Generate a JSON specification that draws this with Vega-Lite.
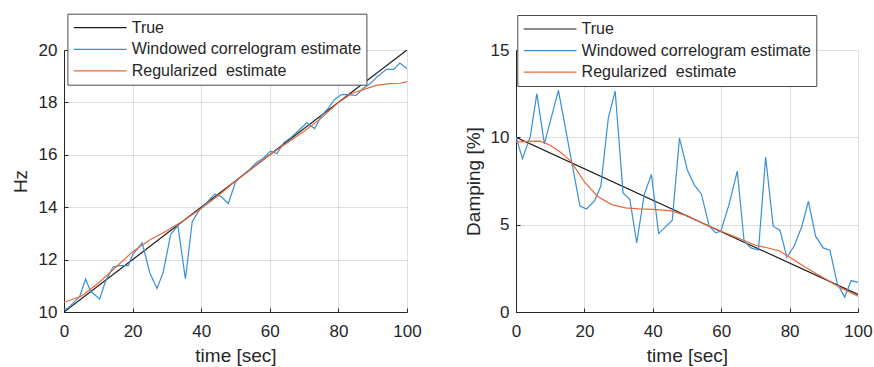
{
  "$schema": "https://vega.github.io/schema/vega-lite/v6.json",
  "padding": {"left": 11, "top": 13, "right": 5, "bottom": 5},
  "background": "white",
  "spacing": 109,
  "bounds": "flush",
  "config": {
    "view": {"stroke": null},
    "font": "Liberation Sans",
    "axis": {
      "labelFont": "Liberation Sans",
      "titleFont": "Liberation Sans",
      "labelFontSize": 17,
      "titleFontSize": 19,
      "titleFontWeight": "normal",
      "labelColor": "#262626",
      "titleColor": "#262626",
      "domainColor": "#262626",
      "tickColor": "#262626",
      "gridColor": "#262626",
      "gridOpacity": 0.15,
      "tickSize": -4,
      "labelPadding": 15,
      "labelFlush": false,
      "labelOverlap": false
    },
    "legend": {
      "orient": "none",
      "labelFont": "Liberation Sans",
      "labelFontSize": 16,
      "labelColor": "#262626",
      "symbolType": "M-3.3,0H3.3",
      "symbolSize": 256,
      "symbolStrokeWidth": 1.2,
      "symbolFillColor": "transparent",
      "symbolOffset": 18.8,
      "labelOffset": 22.5,
      "rowPadding": 4.6,
      "padding": 5,
      "strokeColor": "#4a4a4a",
      "fillColor": "white",
      "title": null,
      "labelLimit": 400
    }
  },
  "datasets": {
    "freq": [
      {"t": 0, "v": 10, "s": "True"},
      {"t": 100, "v": 20, "s": "True"},
      {"t": 0, "v": 10.1, "s": "Windowed correlogram estimate"},
      {"t": 1.2, "v": 10.15, "s": "Windowed correlogram estimate"},
      {"t": 4.6, "v": 10.6, "s": "Windowed correlogram estimate"},
      {"t": 6.3, "v": 11.26, "s": "Windowed correlogram estimate"},
      {"t": 7.7, "v": 10.8, "s": "Windowed correlogram estimate"},
      {"t": 10.4, "v": 10.5, "s": "Windowed correlogram estimate"},
      {"t": 12.1, "v": 11.17, "s": "Windowed correlogram estimate"},
      {"t": 14.3, "v": 11.72, "s": "Windowed correlogram estimate"},
      {"t": 16.2, "v": 11.77, "s": "Windowed correlogram estimate"},
      {"t": 18.7, "v": 11.77, "s": "Windowed correlogram estimate"},
      {"t": 20.1, "v": 12.2, "s": "Windowed correlogram estimate"},
      {"t": 22.8, "v": 12.64, "s": "Windowed correlogram estimate"},
      {"t": 25.0, "v": 11.5, "s": "Windowed correlogram estimate"},
      {"t": 27.1, "v": 10.9, "s": "Windowed correlogram estimate"},
      {"t": 28.9, "v": 11.5, "s": "Windowed correlogram estimate"},
      {"t": 31.1, "v": 12.96, "s": "Windowed correlogram estimate"},
      {"t": 33.2, "v": 13.3, "s": "Windowed correlogram estimate"},
      {"t": 35.4, "v": 11.26, "s": "Windowed correlogram estimate"},
      {"t": 37.4, "v": 13.46, "s": "Windowed correlogram estimate"},
      {"t": 39.5, "v": 13.9, "s": "Windowed correlogram estimate"},
      {"t": 41.8, "v": 14.2, "s": "Windowed correlogram estimate"},
      {"t": 43.9, "v": 14.5, "s": "Windowed correlogram estimate"},
      {"t": 45.9, "v": 14.4, "s": "Windowed correlogram estimate"},
      {"t": 47.9, "v": 14.14, "s": "Windowed correlogram estimate"},
      {"t": 50.0, "v": 14.96, "s": "Windowed correlogram estimate"},
      {"t": 51.9, "v": 15.2, "s": "Windowed correlogram estimate"},
      {"t": 54.1, "v": 15.44, "s": "Windowed correlogram estimate"},
      {"t": 56.1, "v": 15.7, "s": "Windowed correlogram estimate"},
      {"t": 58.0, "v": 15.86, "s": "Windowed correlogram estimate"},
      {"t": 60.2, "v": 16.14, "s": "Windowed correlogram estimate"},
      {"t": 62.1, "v": 16.05, "s": "Windowed correlogram estimate"},
      {"t": 64.1, "v": 16.46, "s": "Windowed correlogram estimate"},
      {"t": 66.1, "v": 16.65, "s": "Windowed correlogram estimate"},
      {"t": 68.2, "v": 16.9, "s": "Windowed correlogram estimate"},
      {"t": 70.8, "v": 17.22, "s": "Windowed correlogram estimate"},
      {"t": 73.1, "v": 17.0, "s": "Windowed correlogram estimate"},
      {"t": 75.0, "v": 17.48, "s": "Windowed correlogram estimate"},
      {"t": 77.0, "v": 17.77, "s": "Windowed correlogram estimate"},
      {"t": 78.9, "v": 18.11, "s": "Windowed correlogram estimate"},
      {"t": 80.9, "v": 18.3, "s": "Windowed correlogram estimate"},
      {"t": 82.8, "v": 18.3, "s": "Windowed correlogram estimate"},
      {"t": 85.2, "v": 18.27, "s": "Windowed correlogram estimate"},
      {"t": 87.2, "v": 18.53, "s": "Windowed correlogram estimate"},
      {"t": 89.6, "v": 18.75, "s": "Windowed correlogram estimate"},
      {"t": 91.5, "v": 19.0, "s": "Windowed correlogram estimate"},
      {"t": 94.0, "v": 19.26, "s": "Windowed correlogram estimate"},
      {"t": 96.1, "v": 19.26, "s": "Windowed correlogram estimate"},
      {"t": 97.9, "v": 19.5, "s": "Windowed correlogram estimate"},
      {"t": 100, "v": 19.29, "s": "Windowed correlogram estimate"},
      {"t": 0, "v": 10.37, "s": "Regularized \u00a0estimate"},
      {"t": 5, "v": 10.6, "s": "Regularized \u00a0estimate"},
      {"t": 10, "v": 11.1, "s": "Regularized \u00a0estimate"},
      {"t": 15, "v": 11.7, "s": "Regularized \u00a0estimate"},
      {"t": 20, "v": 12.3, "s": "Regularized \u00a0estimate"},
      {"t": 25, "v": 12.75, "s": "Regularized \u00a0estimate"},
      {"t": 30, "v": 13.1, "s": "Regularized \u00a0estimate"},
      {"t": 35, "v": 13.5, "s": "Regularized \u00a0estimate"},
      {"t": 40, "v": 13.95, "s": "Regularized \u00a0estimate"},
      {"t": 45, "v": 14.45, "s": "Regularized \u00a0estimate"},
      {"t": 50, "v": 15.0, "s": "Regularized \u00a0estimate"},
      {"t": 55, "v": 15.5, "s": "Regularized \u00a0estimate"},
      {"t": 60, "v": 16.0, "s": "Regularized \u00a0estimate"},
      {"t": 65, "v": 16.45, "s": "Regularized \u00a0estimate"},
      {"t": 70, "v": 16.9, "s": "Regularized \u00a0estimate"},
      {"t": 75, "v": 17.4, "s": "Regularized \u00a0estimate"},
      {"t": 80, "v": 18.0, "s": "Regularized \u00a0estimate"},
      {"t": 84, "v": 18.35, "s": "Regularized \u00a0estimate"},
      {"t": 87, "v": 18.48, "s": "Regularized \u00a0estimate"},
      {"t": 91, "v": 18.65, "s": "Regularized \u00a0estimate"},
      {"t": 95, "v": 18.72, "s": "Regularized \u00a0estimate"},
      {"t": 98, "v": 18.73, "s": "Regularized \u00a0estimate"},
      {"t": 100, "v": 18.79, "s": "Regularized \u00a0estimate"}
    ],
    "damp": [
      {"t": 0, "v": 10, "s": "True"},
      {"t": 100, "v": 1.0, "s": "True"},
      {"t": 0, "v": 10.03, "s": "Windowed correlogram estimate"},
      {"t": 1.9, "v": 8.77, "s": "Windowed correlogram estimate"},
      {"t": 4.2, "v": 10.07, "s": "Windowed correlogram estimate"},
      {"t": 6.1, "v": 12.5, "s": "Windowed correlogram estimate"},
      {"t": 8.3, "v": 9.63, "s": "Windowed correlogram estimate"},
      {"t": 12.4, "v": 12.69, "s": "Windowed correlogram estimate"},
      {"t": 18.7, "v": 6.06, "s": "Windowed correlogram estimate"},
      {"t": 20.6, "v": 5.9, "s": "Windowed correlogram estimate"},
      {"t": 22.9, "v": 6.35, "s": "Windowed correlogram estimate"},
      {"t": 24.8, "v": 7.2, "s": "Windowed correlogram estimate"},
      {"t": 27.0, "v": 11.12, "s": "Windowed correlogram estimate"},
      {"t": 29.0, "v": 12.65, "s": "Windowed correlogram estimate"},
      {"t": 31.3, "v": 6.82, "s": "Windowed correlogram estimate"},
      {"t": 33.3, "v": 6.44, "s": "Windowed correlogram estimate"},
      {"t": 35.3, "v": 3.95, "s": "Windowed correlogram estimate"},
      {"t": 37.5, "v": 6.73, "s": "Windowed correlogram estimate"},
      {"t": 39.6, "v": 7.88, "s": "Windowed correlogram estimate"},
      {"t": 41.7, "v": 4.49, "s": "Windowed correlogram estimate"},
      {"t": 45.7, "v": 5.25, "s": "Windowed correlogram estimate"},
      {"t": 47.8, "v": 9.96, "s": "Windowed correlogram estimate"},
      {"t": 50.1, "v": 8.13, "s": "Windowed correlogram estimate"},
      {"t": 52.2, "v": 7.25, "s": "Windowed correlogram estimate"},
      {"t": 54.2, "v": 6.76, "s": "Windowed correlogram estimate"},
      {"t": 56.5, "v": 4.91, "s": "Windowed correlogram estimate"},
      {"t": 58.4, "v": 4.53, "s": "Windowed correlogram estimate"},
      {"t": 59.9, "v": 4.63, "s": "Windowed correlogram estimate"},
      {"t": 62.3, "v": 6.16, "s": "Windowed correlogram estimate"},
      {"t": 64.7, "v": 8.07, "s": "Windowed correlogram estimate"},
      {"t": 66.7, "v": 4.05, "s": "Windowed correlogram estimate"},
      {"t": 68.7, "v": 3.67, "s": "Windowed correlogram estimate"},
      {"t": 70.9, "v": 3.55, "s": "Windowed correlogram estimate"},
      {"t": 73.0, "v": 8.87, "s": "Windowed correlogram estimate"},
      {"t": 75.2, "v": 4.91, "s": "Windowed correlogram estimate"},
      {"t": 77.2, "v": 4.68, "s": "Windowed correlogram estimate"},
      {"t": 79.2, "v": 3.13, "s": "Windowed correlogram estimate"},
      {"t": 81.3, "v": 3.76, "s": "Windowed correlogram estimate"},
      {"t": 83.6, "v": 4.91, "s": "Windowed correlogram estimate"},
      {"t": 85.5, "v": 6.34, "s": "Windowed correlogram estimate"},
      {"t": 87.6, "v": 4.34, "s": "Windowed correlogram estimate"},
      {"t": 89.8, "v": 3.67, "s": "Windowed correlogram estimate"},
      {"t": 91.8, "v": 3.54, "s": "Windowed correlogram estimate"},
      {"t": 93.9, "v": 1.66, "s": "Windowed correlogram estimate"},
      {"t": 96.1, "v": 0.84, "s": "Windowed correlogram estimate"},
      {"t": 98.0, "v": 1.8, "s": "Windowed correlogram estimate"},
      {"t": 100, "v": 1.7, "s": "Windowed correlogram estimate"},
      {"t": 0, "v": 9.72, "s": "Regularized \u00a0estimate"},
      {"t": 3, "v": 9.77, "s": "Regularized \u00a0estimate"},
      {"t": 7, "v": 9.78, "s": "Regularized \u00a0estimate"},
      {"t": 10, "v": 9.55, "s": "Regularized \u00a0estimate"},
      {"t": 13, "v": 9.15, "s": "Regularized \u00a0estimate"},
      {"t": 16, "v": 8.64, "s": "Regularized \u00a0estimate"},
      {"t": 20, "v": 7.45, "s": "Regularized \u00a0estimate"},
      {"t": 24, "v": 6.6, "s": "Regularized \u00a0estimate"},
      {"t": 28, "v": 6.15, "s": "Regularized \u00a0estimate"},
      {"t": 32, "v": 5.96, "s": "Regularized \u00a0estimate"},
      {"t": 36, "v": 5.9, "s": "Regularized \u00a0estimate"},
      {"t": 40, "v": 5.88, "s": "Regularized \u00a0estimate"},
      {"t": 45, "v": 5.8, "s": "Regularized \u00a0estimate"},
      {"t": 50, "v": 5.52, "s": "Regularized \u00a0estimate"},
      {"t": 55, "v": 5.04, "s": "Regularized \u00a0estimate"},
      {"t": 60, "v": 4.62, "s": "Regularized \u00a0estimate"},
      {"t": 65, "v": 4.24, "s": "Regularized \u00a0estimate"},
      {"t": 70, "v": 3.82, "s": "Regularized \u00a0estimate"},
      {"t": 74, "v": 3.65, "s": "Regularized \u00a0estimate"},
      {"t": 77, "v": 3.5, "s": "Regularized \u00a0estimate"},
      {"t": 80, "v": 3.13, "s": "Regularized \u00a0estimate"},
      {"t": 85, "v": 2.52, "s": "Regularized \u00a0estimate"},
      {"t": 90, "v": 1.95, "s": "Regularized \u00a0estimate"},
      {"t": 95, "v": 1.38, "s": "Regularized \u00a0estimate"},
      {"t": 100, "v": 0.9, "s": "Regularized \u00a0estimate"}
    ]
  },
  "resolve": {"scale": {"color": "independent", "y": "independent"}, "legend": {"color": "independent"}},
  "hconcat": [
    {
      "width": 343,
      "height": 262,
      "data": {"name": "freq"},
      "mark": {"type": "line", "strokeWidth": 1.2, "clip": true},
      "encoding": {
        "x": {"field": "t", "type": "quantitative", "title": "time [sec]",
              "scale": {"domain": [0, 100], "nice": false},
              "axis": {"values": [0, 20, 40, 60, 80, 100], "titlePadding": 7}},
        "y": {"field": "v", "type": "quantitative", "title": "Hz",
              "scale": {"domain": [10, 20], "nice": false, "zero": false},
              "axis": {"values": [10, 12, 14, 16, 18, 20], "labelPadding": 11, "titlePadding": 8}},
        "color": {"field": "s", "type": "nominal",
                  "scale": {"domain": ["True", "Windowed correlogram estimate", "Regularized \u00a0estimate"],
                            "range": ["#1a1a1a", "#3a8fd6", "#e8683a"]},
                  "sort": null,
                  "legend": {"legendX": 3.4, "legendY": -36.3}},
        "order": {"field": "t", "type": "quantitative"}
      }
    },
    {
      "width": 342,
      "height": 262,
      "data": {"name": "damp"},
      "mark": {"type": "line", "strokeWidth": 1.2, "clip": true},
      "encoding": {
        "x": {"field": "t", "type": "quantitative", "title": "time [sec]",
              "scale": {"domain": [0, 100], "nice": false},
              "axis": {"values": [0, 20, 40, 60, 80, 100], "titlePadding": 7}},
        "y": {"field": "v", "type": "quantitative", "title": "Damping [%]",
              "scale": {"domain": [0, 15], "nice": false},
              "axis": {"values": [0, 5, 10, 15], "labelPadding": 11, "titlePadding": 7}},
        "color": {"field": "s", "type": "nominal",
                  "scale": {"domain": ["True", "Windowed correlogram estimate", "Regularized \u00a0estimate"],
                            "range": ["#1a1a1a", "#3a8fd6", "#e8683a"]},
                  "sort": null,
                  "legend": {"legendX": 1.3, "legendY": -35}},
        "order": {"field": "t", "type": "quantitative"}
      }
    }
  ]
}
